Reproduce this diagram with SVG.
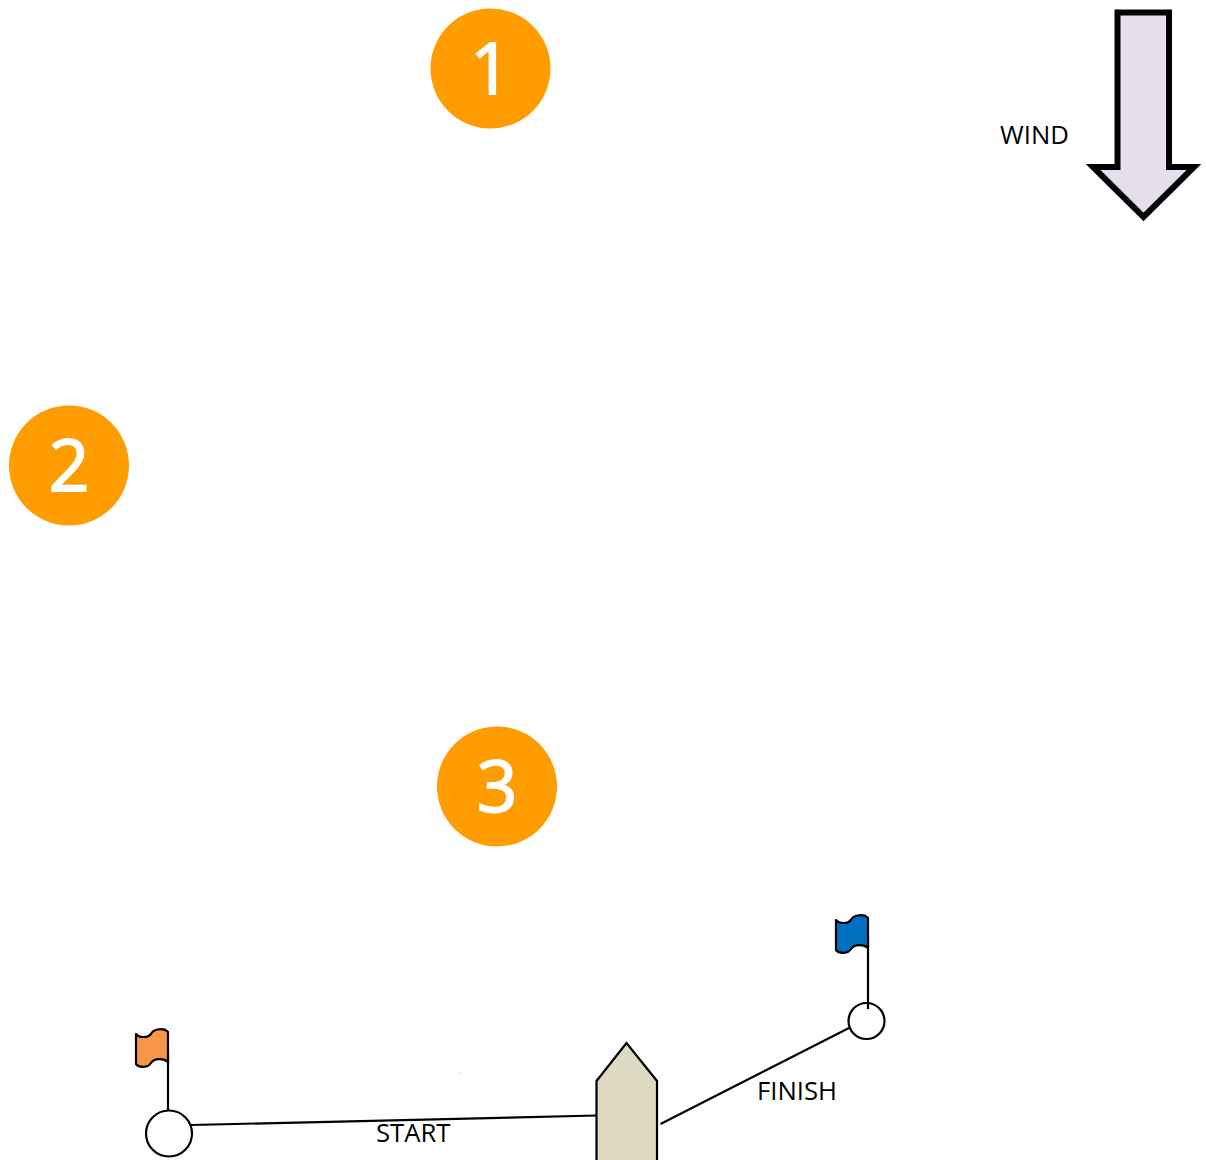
<svg xmlns="http://www.w3.org/2000/svg" width="1206" height="1160" viewBox="0 0 1206 1160">
<style>
.badge{fill:#ff9c00}
.num{font-family:"Open Sans","Noto Sans",sans-serif;font-size:71px;fill:#fff;stroke:#fff;stroke-width:1.8;text-anchor:middle}
.lbl{font-family:"Open Sans","Noto Sans",sans-serif;font-size:25.700px;fill:#000}
.ln{fill:none;stroke:#000;stroke-width:2.2}
.buoy{fill:#fff;stroke:#000;stroke-width:2.2}
.flag{stroke:#000;stroke-width:2.2;stroke-linejoin:round}
</style>
<rect width="1206" height="1160" fill="#fff"/>
<g id="connectors">
<path class="ln" d="M191 1125L597 1115.500"/>
<path class="ln" d="M660.500 1124L849 1028"/>
</g>
<g id="badge-1"><circle class="badge" cx="490.500" cy="68.500" r="60"/><text class="num" x="490.500" y="94">1</text></g>
<g id="badge-2"><circle class="badge" cx="69" cy="465.500" r="60"/><text class="num" x="69" y="491">2</text></g>
<g id="badge-3"><circle class="badge" cx="497" cy="786.500" r="60"/><text class="num" x="497" y="812">3</text></g>
<g id="wind"><path d="M1117.500 12.500H1169V167H1194L1143.500 217L1093 167H1117.500Z" fill="#e5dfec" stroke="#000" stroke-width="6"/><text class="lbl" x="1000" y="144">WIND</text></g>
<g id="start-mark">
<path class="ln" d="M168 1052V1110"/>
<path class="flag" fill="#f79646" d="M136 1034C139 1038 148 1038 151 1034C153 1029 164 1027 168 1032V1062C164 1058 154 1058 151 1063C148 1068 139 1068 136 1064Z"/>
<circle class="buoy" cx="169" cy="1133.500" r="23"/>
<text class="lbl" x="376" y="1142">START</text>
</g>
<g id="finish-mark">
<circle class="buoy" cx="866.500" cy="1021" r="18"/>
<path class="ln" d="M868 935V1009"/>
<path class="flag" fill="#0070c0" d="M836 920C839 924 848 924 851 920C853 915 864 913 868 918V948C864 944 854 944 851 949C848 954 839 954 836 950Z"/>
<text class="lbl" x="757" y="1100">FINISH</text>
</g>
<g id="pier"><path d="M596.500 1162V1081L626.500 1043L657 1081V1162" fill="#ddd9c3" stroke="#000" stroke-width="2.200"/></g>
<path d="M458.500 1073L460 1072" stroke="#bbb" stroke-width="0.800"/>
</svg>
